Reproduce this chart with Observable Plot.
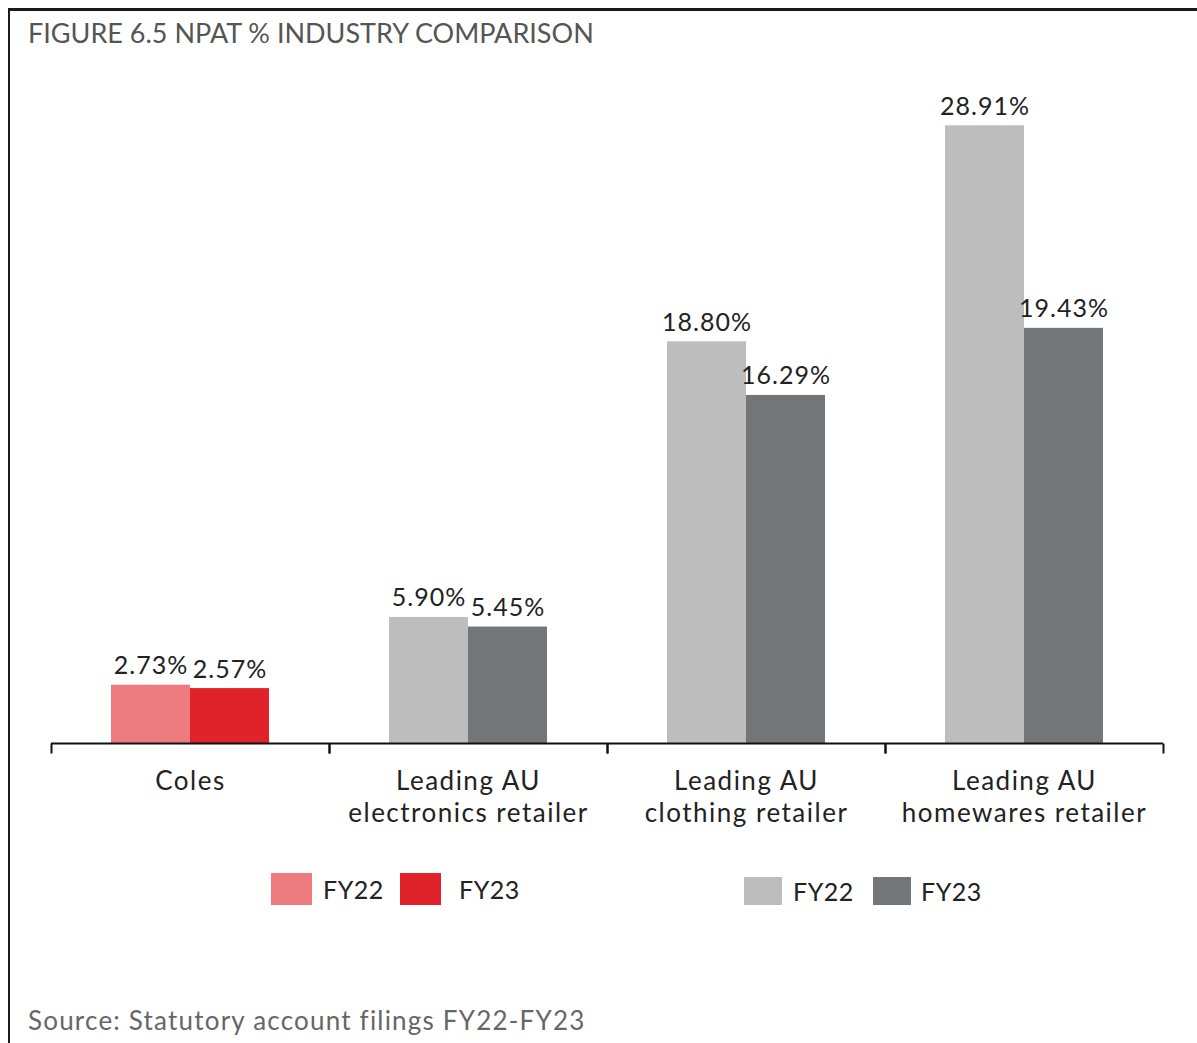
<!DOCTYPE html>
<html>
<head>
<meta charset="utf-8">
<script src="https://cdn.jsdelivr.net/npm/d3@7"></script>
<script src="https://cdn.jsdelivr.net/npm/@observablehq/plot@0.6"></script>
<style>
  html, body { margin: 0; padding: 0; background: #fff; }
  body { width: 1197px; height: 1043px; position: relative; overflow: hidden; font-family: Lato, "Open Sans", sans-serif; }
  #frame { position: absolute; left: 8px; top: 8px; width: 1200px; height: 1100px; border-top: 3px solid #1a1a1a; border-left: 2px solid #1a1a1a; box-sizing: border-box; }
  #title { position: absolute; left: 28px; top: 16px; font-size: 27px; color: #555; white-space: nowrap; }
  #chart { position: absolute; left: 0; top: 60px; }
  #chart svg text { letter-spacing: 1px; }
  #chart svg .cat-label text, #chart svg g.cat-label { letter-spacing: 1.5px; }
  .sw { position: absolute; }
  .lt { position: absolute; font-size: 25px; color: #222; line-height: 30px; letter-spacing: 0.5px; }
  #source { position: absolute; left: 28px; top: 1004px; font-size: 26px; color: #666; white-space: nowrap; letter-spacing: 1.2px; }
</style>
</head>
<body>
<div id="frame"></div>
<div id="title">FIGURE 6.5 NPAT % INDUSTRY COMPARISON</div>
<div id="chart"></div>
<div id="legend"></div>
<div id="source">Source: Statutory account filings FY22-FY23</div>
<script>
// ---- data ----
const categories = [
  "Coles",
  "Leading AU\nelectronics retailer",
  "Leading AU\nclothing retailer",
  "Leading AU\nhomewares retailer"
];
const years = ["FY22", "FY23"];
const fy22 = [2.73, 5.90, 18.80, 28.91];
const fy23 = [2.57, 5.45, 16.29, 19.43];

const colorKeys = ["Coles FY22", "Coles FY23", "FY22", "FY23"];
const colorValues = ["#ee7b80", "#e0232a", "#bcbdbc", "#737678"];

const rows = categories.flatMap((c, i) => [
  {cat: c, year: "FY22", value: fy22[i]},
  {cat: c, year: "FY23", value: fy23[i]}
]);
const key = d => (d.cat === "Coles" ? "Coles " : "") + d.year;

const tickSymbol = { draw(ctx) { ctx.moveTo(0, 0); ctx.lineTo(0, 10); } };

const plot = Plot.plot({
  width: 1197,
  height: 783,
  marginLeft: 50,
  marginRight: 34,
  marginTop: 42,
  marginBottom: 100,
  style: { fontFamily: "Lato, 'Open Sans', sans-serif", background: "transparent" },
  fx: { domain: categories, padding: 0, axis: null },
  x: { domain: years, paddingInner: 0, paddingOuter: 0.74, axis: null },
  y: { domain: [0, 30], axis: null },
  color: { domain: colorKeys, range: colorValues },
  marks: [
    Plot.barY(rows, { fx: "cat", x: "year", y: "value", fill: key }),
    Plot.text(rows, {
      fx: "cat", x: "year", y: "value",
      text: d => d.value.toFixed(2) + "%",
      lineAnchor: "bottom", dy: -11, fontSize: 25, fill: "#222"
    }),
    Plot.ruleY([0], { stroke: "#111", strokeWidth: 2 }),
    Plot.dot([0], { frameAnchor: "bottom-left", symbol: tickSymbol, r: 3, stroke: "#111", strokeWidth: 2, fill: "none" }),
    Plot.dot([0], { frameAnchor: "bottom-right", symbol: tickSymbol, r: 3, stroke: "#111", strokeWidth: 2, fill: "none" }),
    Plot.text(categories, {
      fx: d => d, frameAnchor: "bottom", text: d => d,
      lineAnchor: "top", dy: 24, lineHeight: 1.23, fontSize: 26, fill: "#222",
      className: "cat-label"
    })
  ]
});
document.getElementById("chart").appendChild(plot);

// ---- legend (two groups) ----
const legendItems = [
  {k: "Coles FY22", label: "FY22", sx: 271, sy: 873, sw: 41, sh: 32, tx: 323},
  {k: "Coles FY23", label: "FY23", sx: 400, sy: 873, sw: 41, sh: 32, tx: 459},
  {k: "FY22", label: "FY22", sx: 744, sy: 877, sw: 38, sh: 28, tx: 793},
  {k: "FY23", label: "FY23", sx: 873, sy: 877, sw: 38, sh: 28, tx: 921}
];
const color = plot.scale("color");
const leg = document.getElementById("legend");
for (const it of legendItems) {
  const s = document.createElement("div");
  s.className = "sw";
  Object.assign(s.style, {left: it.sx + "px", top: it.sy + "px", width: it.sw + "px", height: it.sh + "px", background: color.apply(it.k)});
  leg.appendChild(s);
  const t = document.createElement("div");
  t.className = "lt";
  t.textContent = it.label;
  Object.assign(t.style, {left: it.tx + "px", top: (it.sy + it.sh / 2 - 15) + "px"});
  leg.appendChild(t);
}
</script>
</body>
</html>
